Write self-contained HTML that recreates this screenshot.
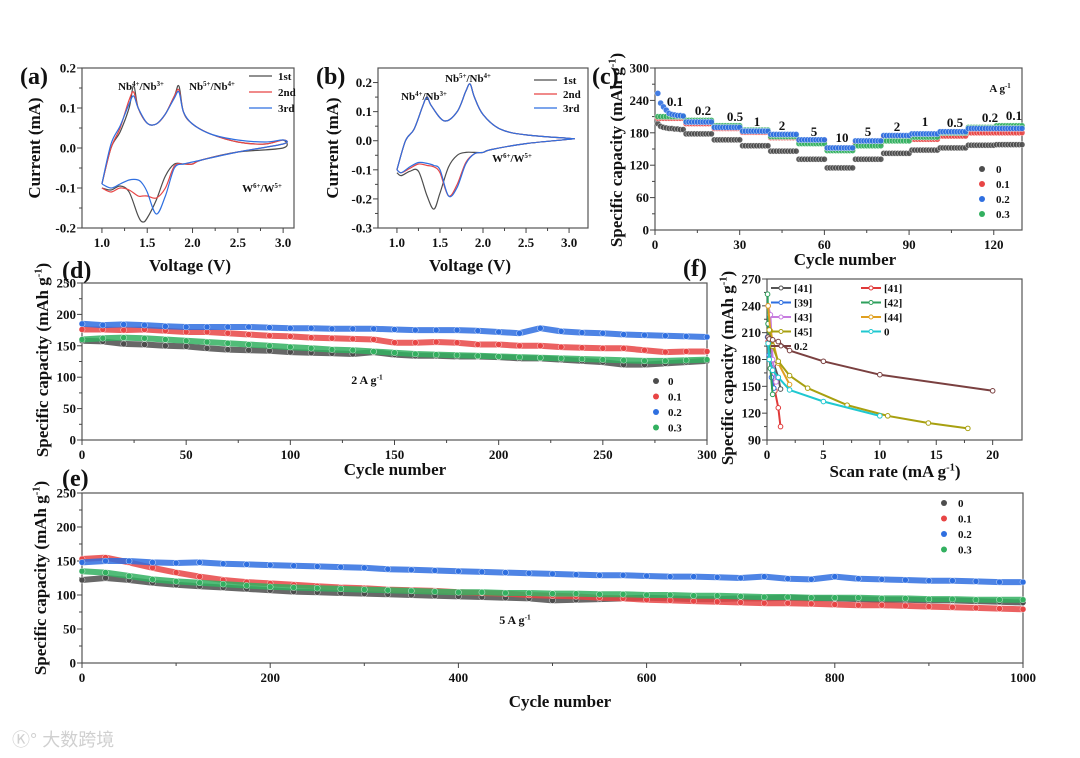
<!DOCTYPE html>
<html><head><meta charset="utf-8">
<style>
html,body{margin:0;padding:0;background:#fff;}
svg{display:block;font-family:"Liberation Serif","Noto Serif CJK SC",serif;font-weight:bold;}
</style></head>
<body>
<svg id="fig" width="1080" height="758" viewBox="0 0 1080 758" xmlns="http://www.w3.org/2000/svg"></svg>
<script>
// ---- Panel (a) CV data ----
const aUpV=[1.0,1.1,1.2,1.3,1.35,1.4,1.5,1.6,1.7,1.8,1.85,1.9,2.0,2.2,2.5,2.8,3.0];
const aUp1=[-0.09,0.0,0.04,0.1,0.155,0.1,0.062,0.06,0.085,0.13,0.155,0.09,0.06,0.035,0.015,0.01,0.02];
const aUp2=[-0.09,0.0,0.05,0.12,0.14,0.1,0.062,0.06,0.085,0.13,0.145,0.09,0.06,0.035,0.015,0.01,0.02];
const aUp3=[-0.09,0.01,0.055,0.11,0.13,0.1,0.062,0.06,0.085,0.125,0.14,0.09,0.06,0.035,0.02,0.015,0.02];
const aLoV=[3.0,2.5,2.1,2.0,1.9,1.8,1.7,1.6,1.5,1.45,1.4,1.3,1.2,1.1,1.0];
const aLo1=[0.0,-0.01,-0.03,-0.04,-0.04,-0.04,-0.07,-0.13,-0.175,-0.185,-0.17,-0.11,-0.095,-0.105,-0.1];
const aLo2=[0.01,-0.01,-0.03,-0.04,-0.04,-0.045,-0.1,-0.125,-0.12,-0.12,-0.12,-0.105,-0.1,-0.11,-0.1];
const aLo3=[0.01,-0.01,-0.03,-0.035,-0.04,-0.05,-0.12,-0.165,-0.11,-0.09,-0.08,-0.08,-0.09,-0.1,-0.09];
// ---- Panel (b) CV data ----
const bUpV=[1.0,1.1,1.2,1.3,1.35,1.4,1.55,1.7,1.8,1.85,1.9,2.0,2.2,2.5,3.0];
const bUp=[-0.1,0.0,0.04,0.12,0.15,0.12,0.068,0.1,0.17,0.195,0.15,0.09,0.04,0.02,0.008];
const bLoV=[3.0,2.5,2.1,2.0,1.9,1.8,1.7,1.6,1.5,1.43,1.35,1.25,1.15,1.05,1.0];
const bLo1=[0.005,-0.01,-0.03,-0.04,-0.04,-0.04,-0.05,-0.09,-0.18,-0.235,-0.19,-0.105,-0.105,-0.12,-0.11];
const bLo2=[0.005,-0.01,-0.03,-0.04,-0.045,-0.075,-0.15,-0.19,-0.11,-0.09,-0.085,-0.08,-0.095,-0.11,-0.1];
const bLo3=[0.005,-0.01,-0.03,-0.04,-0.045,-0.08,-0.16,-0.19,-0.1,-0.085,-0.078,-0.075,-0.09,-0.11,-0.1];
// ---- Panel (c) rate data (per 10-cycle segment) ----
const cRates=["0.1","0.2","0.5","1","2","5","10","5","2","1","0.5","0.2","0.1"];
const cGray=[190,178,167,156,146,131,115,131,142,148,152,157,158];
const cRed=[207,197,188,181,171,165,150,160,172,168,174,180,180];
const cBlue=[215,200,190,183,177,167,152,165,175,178,182,188,188];
const cGreen=[210,203,193,185,173,160,147,156,165,172,180,190,193];
const cBlueFirst=[253,235,228,222,216,214,213,212,212,211];
const cGrayFirst=[197,192,190,189,188,188,187,187,186,186];
// ---- Panel (d) 2 A/g, every 10 cycles ----
const dCycles=[0,10,20,30,40,50,60,70,80,90,100,110,120,130,140,150,160,170,180,190,200,210,220,230,240,250,260,270,280,290,300];
const dBlue=[185,183,184,183,181,180,180,180,180,179,178,178,177,177,177,176,175,175,175,174,172,170,178,173,171,170,168,167,166,165,164];
const dRed=[176,176,175,176,174,172,172,170,168,166,165,163,162,161,160,155,155,156,155,152,152,150,150,148,147,146,146,143,140,141,141];
const dGreen=[160,162,163,162,160,158,156,154,152,150,148,146,144,143,141,139,137,136,135,134,133,132,131,130,129,128,127,126,126,127,128];
const dGray=[158,157,153,152,150,149,146,144,143,142,140,139,138,137,140,136,134,134,133,133,132,130,130,128,126,124,120,120,122,124,126];
// ---- Panel (e) 5 A/g, every 25 cycles ----
const eCycles=[0,25,50,75,100,125,150,175,200,225,250,275,300,325,350,375,400,425,450,475,500,525,550,575,600,625,650,675,700,725,750,775,800,825,850,875,900,925,950,975,1000];
const eBlue=[148,150,150,148,147,148,146,145,144,143,142,141,140,138,137,136,135,134,133,132,131,130,129,129,128,127,127,126,125,127,124,123,127,124,123,122,121,121,120,119,119];
const eRed=[153,155,148,140,133,127,122,119,117,115,113,111,110,108,107,106,104,103,102,100,99,98,96,95,93,92,91,90,89,88,88,87,86,85,85,84,83,82,81,80,79];
const eGreen=[135,133,128,123,120,118,116,114,112,111,110,109,108,107,106,105,104,104,103,103,102,102,101,101,100,100,99,99,98,97,97,96,96,96,95,95,94,94,93,93,93];
const eGray=[122,125,122,118,115,113,111,109,107,105,104,103,102,101,100,99,98,97,96,95,92,93,94,95,96,95,94,94,95,95,96,95,95,94,93,93,92,92,91,90,89];
// ---- Panel (f) comparison ----
const fLabels=["[41]","[41]","[39]","[42]","[43]","[44]","[45]","0","0.2"];
const fX=[[0.1,0.3,0.6,1.0,1.2],[0.1,0.3,0.7,1.0,1.2],[0.05,0.2,0.4,0.6],[0.05,0.1,0.3,0.5],[0.1,0.3,0.5,0.8],[0.1,0.3,1.0,2.0],[0.2,0.5,1.0,2.0,3.6,7.1,10.7,14.3,17.8],[0.1,0.2,0.5,1.0,2.0,5.0,10.0],[0.1,0.2,0.5,1.0,2.0,5.0,10.0,20.0]];
const fY=[[220,195,175,160,147],[200,170,145,126,105],[205,185,160,148],[253,220,170,141],[240,230,180,155],[240,212,176,152],[213,195,178,162,148,129,117,109,103],[198,180,168,160,146,133,117],[205,203,202,200,190,178,163,145]];

const NS="http://www.w3.org/2000/svg";
const svg=document.getElementById('fig');
const C={gray:"#4d4d4d",red:"#e84545",blue:"#2f6fe0",green:"#33b060"};
function mk(tag,attrs,parent,name,inter){
  const e=document.createElementNS(NS,tag);
  for(const k in attrs)e.setAttribute(k,attrs[k]);
  
  
  (parent||svg).appendChild(e);return e;
}
function txt(x,y,s,size,parent,name,anchor,extra){
  const t=mk('text',Object.assign({x:x,y:y,'font-size':size,'text-anchor':anchor||'middle',fill:'#111'},extra||{}),parent,name,false);
  t.textContent=s;return t;
}
function supText(x,y,parts,size,parent,name,anchor,rot){
  const attrs={x:x,y:y,'font-size':size,'text-anchor':anchor||'middle',fill:'#111'};
  if(rot)attrs.transform='rotate(-90 '+x+' '+y+')';
  const t=mk('text',attrs,parent,name,false);
  parts.forEach(p=>{
    const s=document.createElementNS(NS,'tspan');
    if(p[1]==='sup'){s.setAttribute('font-size',size*0.62);s.setAttribute('dy',-size*0.38);}
    else if(p[1]==='back'){s.setAttribute('dy',size*0.38);}
    s.textContent=p[0];t.appendChild(s);
  });
  return t;
}
function axes(o){
  const g=mk('g',{},svg,o.name,false);
  const sx=v=>o.L+(v-o.x0)/(o.x1-o.x0)*(o.R-o.L);
  const sy=v=>o.B-(v-o.y0)/(o.y1-o.y0)*(o.B-o.T);
  mk('rect',{x:o.L,y:o.T,width:o.R-o.L,height:o.B-o.T,fill:'none',stroke:'#555','stroke-width':1.2},g,'plot-frame',false);
  o.xt.forEach(v=>{
    mk('line',{x1:sx(v),x2:sx(v),y1:o.B,y2:o.B+5,stroke:'#444','stroke-width':1},g,'x-tick',false);
    txt(sx(v),o.B+19,o.xf?o.xf(v):String(v),o.ts||13,g,'x-tick-label');
  });
  if(o.xm)o.xm.forEach(v=>mk('line',{x1:sx(v),x2:sx(v),y1:o.B,y2:o.B+3,stroke:'#444','stroke-width':1},g,'x-minor-tick',false));
  o.yt.forEach(v=>{
    mk('line',{x1:o.L-5,x2:o.L,y1:sy(v),y2:sy(v),stroke:'#444','stroke-width':1},g,'y-tick',false);
    txt(o.L-6,sy(v)+4.5,o.yf?o.yf(v):String(v),o.ts||13,g,'y-tick-label','end');
  });
  if(o.ym)o.ym.forEach(v=>mk('line',{x1:o.L-3,x2:o.L,y1:sy(v),y2:sy(v),stroke:'#444','stroke-width':1},g,'y-minor-tick',false));
  return {g,sx,sy};
}
function poly(g,xs,ys,ax,color,w,name,op){
  const pts=xs.map((x,i)=>ax.sx(x).toFixed(1)+','+ax.sy(ys[i]).toFixed(1)).join(' ');
  return mk('polyline',{points:pts,fill:'none',stroke:color,'stroke-width':w||1.2,'stroke-linejoin':'round','stroke-opacity':op||1},g,name,false);
}
function smooth(g,xs,ys,ax,color,w,name){
  const P=xs.map((x,i)=>[ax.sx(x),ax.sy(ys[i])]);
  let d='M'+P[0][0].toFixed(1)+','+P[0][1].toFixed(1);
  for(let i=0;i<P.length-1;i++){
    const p0=P[i-1]||P[i],p1=P[i],p2=P[i+1],p3=P[i+2]||P[i+1];
    const c1=[p1[0]+(p2[0]-p0[0])/6,p1[1]+(p2[1]-p0[1])/6];
    const c2=[p2[0]-(p3[0]-p1[0])/6,p2[1]-(p3[1]-p1[1])/6];
    d+=' C'+c1.map(v=>v.toFixed(1)).join(',')+' '+c2.map(v=>v.toFixed(1)).join(',')+' '+p2.map(v=>v.toFixed(1)).join(',');
  }
  return mk('path',{d:d,fill:'none',stroke:color,'stroke-width':w||1.2},g,name,false);
}
const f1=v=>v.toFixed(1);

// ===== Panel a =====
const A=axes({name:'panel-a',L:82,R:294,T:68,B:228,x0:0.78,x1:3.12,y0:-0.2,y1:0.2,xt:[1.0,1.5,2.0,2.5,3.0],xf:f1,yt:[-0.2,-0.1,0.0,0.1,0.2],yf:f1,xm:[1.25,1.75,2.25,2.75],ym:[-0.15,-0.05,0.05,0.15]});
[[aUp1,aLo1,C.gray,'cv-1st'],[aUp2,aLo2,C.red,'cv-2nd'],[aUp3,aLo3,C.blue,'cv-3rd']].forEach(s=>{
  smooth(A.g,aUpV.concat(aLoV),s[0].concat(s[1]),A,s[2],1.2,s[3]);
});
txt(20,84,'(a)',24,svg,'panel-label-a','start');
supText(40,148,[['Current (mA)']],17,svg,'y-axis-title-a','middle',true);
txt(190,271,'Voltage (V)',17,svg,'x-axis-title-a');
supText(141,90,[['Nb'],['4+','sup'],['/Nb','back'],['3+','sup']],11,svg,'annot-nb43-a');
supText(212,90,[['Nb'],['5+','sup'],['/Nb','back'],['4+','sup']],11,svg,'annot-nb54-a');
supText(262,192,[['W'],['6+','sup'],['/W','back'],['5+','sup']],11,svg,'annot-w65-a');
[['1st',C.gray],['2nd',C.red],['3rd',C.blue]].forEach((l,i)=>{
  mk('line',{x1:249,x2:272,y1:76+i*16,y2:76+i*16,stroke:l[1],'stroke-width':1.3},svg,'legend-line-a',false);
  txt(278,80+i*16,l[0],11,svg,'legend-label-a','start');
});

// ===== Panel b =====
const Bx=axes({name:'panel-b',L:378,R:588,T:68,B:228,x0:0.78,x1:3.22,y0:-0.3,y1:0.25,xt:[1.0,1.5,2.0,2.5,3.0],xf:f1,yt:[-0.3,-0.2,-0.1,0.0,0.1,0.2],yf:f1,xm:[1.25,1.75,2.25,2.75],ym:[-0.25,-0.15,-0.05,0.05,0.15]});
[[bLo1,C.gray,'cv-1st'],[bLo2,C.red,'cv-2nd'],[bLo3,C.blue,'cv-3rd']].forEach(s=>{
  smooth(Bx.g,bUpV.concat(bLoV),bUp.concat(s[0]),Bx,s[1],1.2,s[2]);
});
txt(316,84,'(b)',24,svg,'panel-label-b','start');
supText(338,148,[['Current (mA)']],17,svg,'y-axis-title-b','middle',true);
txt(470,271,'Voltage (V)',17,svg,'x-axis-title-b');
supText(468,82,[['Nb'],['5+','sup'],['/Nb','back'],['4+','sup']],11,svg,'annot-nb54-b');
supText(424,100,[['Nb'],['4+','sup'],['/Nb','back'],['3+','sup']],11,svg,'annot-nb43-b');
supText(512,162,[['W'],['6+','sup'],['/W','back'],['5+','sup']],11,svg,'annot-w65-b');
[['1st',C.gray],['2nd',C.red],['3rd',C.blue]].forEach((l,i)=>{
  mk('line',{x1:534,x2:557,y1:80+i*14,y2:80+i*14,stroke:l[1],'stroke-width':1.3},svg,'legend-line-b',false);
  txt(563,84+i*14,l[0],11,svg,'legend-label-b','start');
});

// ===== Panel c =====
const Cx=axes({name:'panel-c',L:655,R:1022,T:68,B:230,x0:0,x1:130,y0:0,y1:300,xt:[0,30,60,90,120],yt:[0,60,120,180,240,300],xm:[15,45,75,105],ym:[30,90,150,210,270]});
function cSeries(levels,first,color,name){
  const g=mk('g',{},Cx.g,name,false);
  levels.forEach((lv,s)=>{
    for(let k=0;k<10;k++){
      const cyc=s*10+k+1;
      const v=(s===0&&first)?first[k]:lv;
      mk('circle',{cx:Cx.sx(cyc),cy:Cx.sy(v),r:3,fill:color,stroke:'#fff','stroke-width':0.4,'fill-opacity':0.9},g,'rate-point',false);
    }
  });
}
cSeries(cGray,cGrayFirst,C.gray,'series-0');
cSeries(cRed,null,C.red,'series-0.1');
cSeries(cGreen,null,C.green,'series-0.3');
cSeries(cBlue,cBlueFirst,C.blue,'series-0.2');
const cLabPos=[[675,106],[703,115],[735,121],[757,126],[782,130],[814,136],[842,142],[868,136],[897,131],[925,126],[955,127],[990,122],[1014,120]];
cRates.forEach((r,i)=>txt(cLabPos[i][0],cLabPos[i][1],r,13,svg,'rate-label'));
supText(1000,92,[['A g'],['-1','sup']],11,svg,'rate-unit');
[['0',C.gray],['0.1',C.red],['0.2',C.blue],['0.3',C.green]].forEach((l,i)=>{
  mk('circle',{cx:982,cy:169+i*15,r:3,fill:l[1]},svg,'legend-marker-c',false);
  txt(996,173+i*15,l[0],11,svg,'legend-label-c','start');
});
txt(592,84,'(c)',24,svg,'panel-label-c','start');
supText(622,150,[['Specific capacity (mAh g'],['-1','sup'],[')','back']],17,svg,'y-axis-title-c','middle',true);
txt(845,265,'Cycle number',17,svg,'x-axis-title-c');

// ===== Panel d =====
const D=axes({name:'panel-d',L:82,R:707,T:283,B:440,x0:0,x1:300,y0:0,y1:250,xt:[0,50,100,150,200,250,300],yt:[0,50,100,150,200,250],xm:[25,75,125,175,225,275],ym:[25,75,125,175,225]});
function band(ax,xs,ys,color,name,r){
  const g=mk('g',{},ax.g,name,false);
  poly(g,xs,ys,ax,color,6,'series-band',0.85);
  xs.forEach((x,i)=>mk('circle',{cx:ax.sx(x),cy:ax.sy(ys[i]),r:r||3,fill:color,stroke:'#fff','stroke-width':0.4},g,'data-point',false));
}
band(D,dCycles,dGray,C.gray,'series-0');
band(D,dCycles,dGreen,C.green,'series-0.3');
band(D,dCycles,dRed,C.red,'series-0.1');
band(D,dCycles,dBlue,C.blue,'series-0.2');
supText(367,384,[['2 A g'],['-1','sup']],12,svg,'current-label-d');
[['0',C.gray],['0.1',C.red],['0.2',C.blue],['0.3',C.green]].forEach((l,i)=>{
  mk('circle',{cx:656,cy:381+i*15.5,r:3,fill:l[1]},svg,'legend-marker-d',false);
  txt(668,385+i*15.5,l[0],11,svg,'legend-label-d','start');
});
txt(62,278,'(d)',24,svg,'panel-label-d','start');
supText(48,360,[['Specific capacity (mAh g'],['-1','sup'],[')','back']],17,svg,'y-axis-title-d','middle',true);
txt(395,475,'Cycle number',17,svg,'x-axis-title-d');

// ===== Panel f =====
const Fx=axes({name:'panel-f',L:767,R:1022,T:279,B:440,x0:0,x1:22.6,y0:90,y1:270,xt:[0,5,10,15,20],yt:[90,120,150,180,210,240,270],xm:[2.5,7.5,12.5,17.5],ym:[105,135,165,195,225,255]});
const fCol=["#555555","#e03a3a","#2f6fe0","#2ea05c","#c77ce0","#e0a020","#a8a010","#20c8d0","#7a4040"];
fX.forEach((xs,i)=>{
  const g=mk('g',{},Fx.g,'series-'+fLabels[i],false);
  poly(g,xs,fY[i],Fx,fCol[i],2,'series-line');
  xs.forEach((x,j)=>mk('circle',{cx:Fx.sx(x),cy:Fx.sy(fY[i][j]),r:2.3,fill:'#fff',stroke:fCol[i],'stroke-width':1},g,'data-point',false));
});
fLabels.forEach((l,i)=>{
  const col=i%2, row=Math.floor(i/2);
  const x0=col?861:771, y=288+row*14.5;
  mk('line',{x1:x0,x2:x0+20,y1:y,y2:y,stroke:fCol[i],'stroke-width':2},svg,'legend-line-f',false);
  mk('circle',{cx:x0+10,cy:y,r:2,fill:'#fff',stroke:fCol[i]},svg,'legend-marker-f',false);
  txt(x0+23,y+4,l,11,svg,'legend-label-f','start');
});
txt(683,276,'(f)',24,svg,'panel-label-f','start');
supText(733,368,[['Specific capacity (mAh g'],['-1','sup'],[')','back']],17,svg,'y-axis-title-f','middle',true);
supText(895,477,[['Scan rate (mA g'],['-1','sup'],[')','back']],17,svg,'x-axis-title-f');

// ===== Panel e =====
const E=axes({name:'panel-e',L:82,R:1023,T:493,B:663,x0:0,x1:1000,y0:0,y1:250,xt:[0,200,400,600,800,1000],yt:[0,50,100,150,200,250],xm:[100,300,500,700,900],ym:[25,75,125,175,225]});
band(E,eCycles,eGray,C.gray,'series-0');
band(E,eCycles,eRed,C.red,'series-0.1');
band(E,eCycles,eGreen,C.green,'series-0.3');
band(E,eCycles,eBlue,C.blue,'series-0.2');
supText(515,624,[['5 A g'],['-1','sup']],12,svg,'current-label-e');
[['0',C.gray],['0.1',C.red],['0.2',C.blue],['0.3',C.green]].forEach((l,i)=>{
  mk('circle',{cx:944,cy:503+i*15.5,r:3,fill:l[1]},svg,'legend-marker-e',false);
  txt(958,507+i*15.5,l[0],11,svg,'legend-label-e','start');
});
txt(62,486,'(e)',24,svg,'panel-label-e','start');
supText(46,578,[['Specific capacity (mAh g'],['-1','sup'],[')','back']],17,svg,'y-axis-title-e','middle',true);
txt(560,707,'Cycle number',17,svg,'x-axis-title-e');

// watermark
txt(12,746,'Ⓚ° 大数跨境',18,svg,'watermark','start',{fill:'#d0d0d0','font-family':'"Liberation Sans","Noto Sans CJK SC",sans-serif','font-weight':'normal'});
</script>
</body></html>
